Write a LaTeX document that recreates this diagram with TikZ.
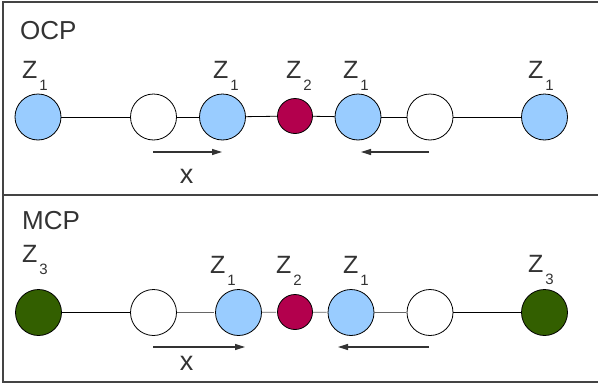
\documentclass[tikz,border=0pt]{standalone}
\usepackage{fontspec}
\setmainfont{Liberation Sans}
\usepackage{xcolor}
\usetikzlibrary{arrows.meta,calc}
\definecolor{ink}{HTML}{333333}
\definecolor{edgegray}{HTML}{444444}
\definecolor{bond}{HTML}{666666}
\definecolor{zone}{HTML}{99CCFF}
\definecolor{core}{HTML}{B3004D}
\definecolor{wall}{HTML}{335F00}
\newcommand{\zlab}[1]{Z\kern2pt\raisebox{-12pt}{\fontsize{15}{15}\selectfont #1}}

\begin{document}
\begin{tikzpicture}[x=1pt,y=-1pt,
  atom/.style={circle,draw=black,line width=0.8pt,inner sep=0pt,minimum size=46pt},
  small/.style={circle,draw=black,line width=0.8pt,inner sep=0pt,minimum size=35pt,fill=core},
  zlabel/.style={text=ink,font=\fontsize{25}{25}\selectfont,inner sep=0pt,anchor=base west},
  head/.style={text=ink,font=\fontsize{26}{26}\selectfont,inner sep=0pt,anchor=base west},
  move/.style={draw=ink,line width=1.2pt,-{Triangle[length=10pt,width=6pt]}}]
\useasboundingbox (0,0) rectangle (598,383);
% frame
\draw[edgegray,line width=1.5pt] (598,2) -- (3,2) -- (3,382) -- (598,382);
\draw[edgegray,line width=1.5pt] (3,195) -- (598,195);
% OCP row
\node[head] (ocp) at (20,39) {OCP};
\node[atom,fill=zone]  (t1) at (38,117) {};
\node[atom,fill=white] (t2) at (153.5,117) {};
\node[atom,fill=zone]  (t3) at (222.5,117) {};
\node[small]           (t4) at (295,116) {};
\node[atom,fill=zone]  (t5) at (358,117) {};
\node[atom,fill=white] (t6) at (430,117) {};
\node[atom,fill=zone]  (t7) at (544.5,117) {};
\foreach \a/\b in {t1/t2,t2/t3,t3/t4,t4/t5,t5/t6,t6/t7}
  \draw[line width=0.8pt] (\a) -- (\b);
\node[zlabel] (zt1) at (22,78) {\zlab{1}};
\node[zlabel] (zt3) at (213,78) {\zlab{1}};
\node[zlabel] (zt4) at (286,78) {\zlab{2}};
\node[zlabel] (zt5) at (343,78) {\zlab{1}};
\node[zlabel] (zt7) at (528,78) {\zlab{1}};
\coordinate (ta) at (153,152); \coordinate (tb) at (222,152);
\coordinate (tc) at (429,152); \coordinate (td) at (361,152);
\draw[move] (ta) -- (tb);
\draw[move] (tc) -- (td);
\node[head,font=\fontsize{27}{27}\selectfont,anchor=base] (tx) at (186.5,183) {x};
% MCP row
\node[head] (mcp) at (22,229) {MCP};
\node[atom,fill=wall]  (b1) at (38.5,312.5) {};
\node[atom,fill=white] (b2) at (153.5,312.5) {};
\node[atom,fill=zone]  (b3) at (238.5,312.5) {};
\node[small]           (b4) at (295,312) {};
\node[atom,fill=zone]  (b5) at (351,312.5) {};
\node[atom,fill=white] (b6) at (430,312.5) {};
\node[atom,fill=wall]  (b7) at (544.5,312.5) {};
\draw[line width=1pt] (b1) -- (b2);
\foreach \a/\b in {b2/b3,b3/b4,b4/b5,b5/b6}
  \draw[bond,line width=0.8pt,shorten >=1pt] (\a) -- (\b);
\draw[line width=1pt] (b6) -- (b7);
\node[zlabel] (zb1) at (22,262) {\zlab{3}};
\node[zlabel] (zb3) at (210,273) {\zlab{1}};
\node[zlabel] (zb4) at (276,273) {\zlab{2}};
\node[zlabel] (zb5) at (343,273) {\zlab{1}};
\node[zlabel] (zb7) at (528,272) {\zlab{3}};
\coordinate (ba) at (153,347); \coordinate (bb) at (245,347);
\coordinate (bc) at (429,347); \coordinate (bd) at (338,347);
\draw[move] (ba) -- (bb);
\draw[move] (bc) -- (bd);
\node[head,font=\fontsize{27}{27}\selectfont,anchor=base] (bx) at (186.5,370) {x};
\end{tikzpicture}
\end{document}
